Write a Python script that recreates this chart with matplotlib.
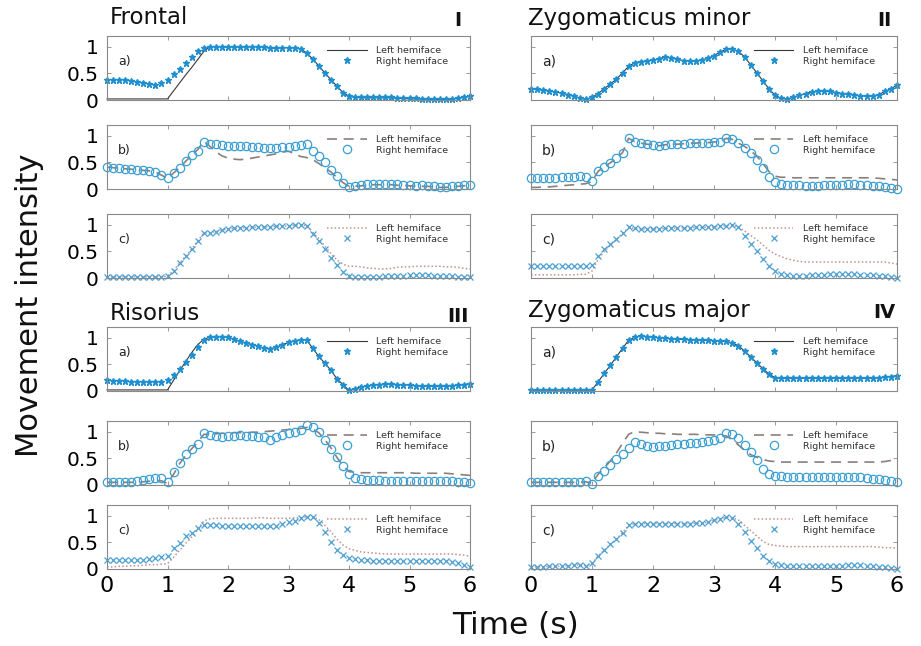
import numpy as np
import matplotlib
matplotlib.use("Agg")
import matplotlib.pyplot as plt

# ---------------- data ----------------
t = np.round(np.arange(61) * 0.1, 1)  # time samples (s)

# Panel I - Frontal
IA_R = [0.38,0.38,0.38,0.37,0.36,0.34,0.32,0.30,0.29,0.32, 0.38,0.48,0.59,0.69,0.80,0.91,0.98,1.00,1.00,1.00,
        0.99,1.00,0.99,1.00,1.00,1.00,0.99,0.97,0.97,0.98, 0.98,0.98,0.96,0.88,0.77,0.64,0.51,0.38,0.26,0.14,
        0.08,0.06,0.05,0.05,0.05,0.05,0.05,0.05,0.04,0.03, 0.03,0.03,0.02,0.02,0.01,0.01,0.01,0.02,0.04,0.06, 0.08]
IA_L = [0.02,0.02,0.02,0.02,0.02,0.02,0.02,0.02,0.02,0.02, 0.02,0.17,0.32,0.47,0.61,0.76,0.91,1.00,1.00,1.00,
        0.99,1.00,0.99,1.00,1.00,1.00,0.99,0.97,0.97,0.98, 0.98,0.98,0.96,0.88,0.77,0.64,0.51,0.38,0.26,0.14,
        0.07,0.05,0.04,0.04,0.04,0.04,0.04,0.04,0.03,0.03, 0.02,0.02,0.02,0.02,0.01,0.01,0.01,0.02,0.03,0.05, 0.07]
IB_R = [0.41,0.40,0.39,0.38,0.37,0.36,0.35,0.34,0.32,0.26, 0.20,0.30,0.40,0.52,0.63,0.72,0.88,0.85,0.84,0.82,
        0.81,0.81,0.81,0.80,0.79,0.78,0.77,0.76,0.76,0.78, 0.79,0.81,0.83,0.85,0.72,0.62,0.50,0.36,0.24,0.12,
        0.04,0.06,0.08,0.09,0.10,0.10,0.09,0.10,0.09,0.08, 0.07,0.06,0.07,0.06,0.05,0.04,0.03,0.05,0.06,0.07, 0.08]
IB_L = [0.41,0.40,0.39,0.38,0.37,0.36,0.35,0.34,0.32,0.26, 0.20,0.30,0.40,0.52,0.63,0.74,0.90,0.80,0.70,0.62,
        0.58,0.56,0.55,0.56,0.58,0.60,0.62,0.64,0.66,0.69, 0.71,0.66,0.61,0.59,0.55,0.48,0.40,0.32,0.22,0.12,
        0.05,0.05,0.06,0.07,0.08,0.08,0.08,0.08,0.07,0.07, 0.06,0.05,0.05,0.05,0.04,0.03,0.03,0.04,0.05,0.06, 0.07]
IC_R = [0.02,0.02,0.02,0.02,0.02,0.02,0.02,0.02,0.02,0.02, 0.03,0.14,0.28,0.41,0.54,0.70,0.84,0.85,0.87,0.90,
        0.92,0.93,0.94,0.94,0.95,0.95,0.96,0.96,0.97,0.97, 0.98,0.99,1.00,0.98,0.82,0.70,0.54,0.38,0.25,0.11,
        0.03,0.02,0.02,0.02,0.02,0.02,0.03,0.03,0.04,0.04, 0.05,0.05,0.05,0.05,0.04,0.04,0.03,0.03,0.02,0.02, 0.02]
IC_L = [0.02,0.02,0.02,0.02,0.02,0.02,0.02,0.02,0.02,0.02, 0.03,0.14,0.28,0.41,0.54,0.70,0.84,0.85,0.87,0.90,
        0.92,0.93,0.94,0.94,0.95,0.95,0.96,0.96,0.97,0.97, 0.98,0.99,1.00,0.98,0.86,0.74,0.60,0.46,0.34,0.26,
        0.22,0.22,0.21,0.19,0.18,0.17,0.17,0.18,0.20,0.21, 0.21,0.22,0.22,0.22,0.22,0.22,0.21,0.21,0.20,0.18, 0.17]

# Panel II - Zygomaticus minor
IIA_R = [0.21,0.20,0.18,0.17,0.15,0.13,0.10,0.07,0.04,0.01, 0.05,0.12,0.21,0.30,0.39,0.51,0.63,0.70,0.72,0.73,
         0.75,0.77,0.81,0.79,0.76,0.74,0.73,0.73,0.75,0.78, 0.83,0.90,0.95,0.96,0.91,0.81,0.66,0.51,0.36,0.21,
         0.09,0.03,0.02,0.05,0.09,0.12,0.15,0.16,0.17,0.16, 0.14,0.12,0.11,0.09,0.08,0.07,0.07,0.10,0.16,0.21, 0.28]
IIA_L = [0.21,0.20,0.18,0.17,0.15,0.13,0.10,0.07,0.04,0.01, 0.05,0.12,0.21,0.30,0.39,0.51,0.63,0.70,0.72,0.73,
         0.75,0.77,0.81,0.79,0.76,0.74,0.73,0.73,0.75,0.78, 0.83,0.90,0.95,0.96,0.91,0.81,0.66,0.51,0.36,0.21,
         0.09,0.03,0.02,0.05,0.09,0.12,0.15,0.16,0.17,0.16, 0.14,0.12,0.11,0.09,0.08,0.07,0.07,0.10,0.16,0.21, 0.28]
IIB_R = [0.20,0.20,0.20,0.21,0.21,0.22,0.23,0.23,0.24,0.23, 0.15,0.33,0.42,0.49,0.58,0.68,0.95,0.89,0.86,0.84,
         0.83,0.81,0.83,0.84,0.84,0.85,0.86,0.86,0.87,0.87, 0.88,0.89,0.95,0.93,0.86,0.76,0.67,0.54,0.39,0.23,
         0.14,0.09,0.08,0.07,0.07,0.06,0.06,0.06,0.07,0.07, 0.08,0.08,0.09,0.09,0.08,0.07,0.06,0.05,0.03,0.02, 0.00]
IIB_L = [0.03,0.03,0.04,0.04,0.05,0.06,0.07,0.08,0.09,0.10, 0.14,0.33,0.42,0.49,0.58,0.68,0.95,0.89,0.86,0.84,
         0.83,0.81,0.83,0.84,0.84,0.85,0.86,0.86,0.87,0.87, 0.88,0.89,0.95,0.93,0.86,0.80,0.72,0.62,0.48,0.33,
         0.24,0.22,0.22,0.21,0.21,0.21,0.21,0.21,0.21,0.21, 0.21,0.21,0.21,0.21,0.21,0.21,0.21,0.20,0.19,0.18, 0.17]
IIC_R = [0.23,0.23,0.23,0.23,0.23,0.23,0.23,0.23,0.23,0.23, 0.24,0.41,0.54,0.63,0.74,0.85,0.95,0.93,0.92,0.92,
         0.92,0.92,0.93,0.93,0.94,0.94,0.94,0.95,0.95,0.95, 0.96,0.97,0.98,0.99,0.96,0.79,0.63,0.51,0.35,0.22,
         0.13,0.08,0.05,0.04,0.04,0.04,0.05,0.05,0.06,0.07, 0.08,0.08,0.08,0.07,0.06,0.06,0.05,0.04,0.03,0.02, 0.00]
IIC_L = [0.06,0.06,0.06,0.06,0.06,0.06,0.06,0.06,0.07,0.07, 0.13,0.35,0.50,0.61,0.72,0.84,0.94,0.93,0.92,0.92,
         0.92,0.92,0.93,0.93,0.94,0.94,0.94,0.95,0.95,0.95, 0.96,0.97,0.98,0.99,0.96,0.88,0.80,0.72,0.62,0.52,
         0.45,0.40,0.36,0.33,0.31,0.30,0.30,0.30,0.30,0.30, 0.30,0.30,0.30,0.30,0.30,0.30,0.30,0.30,0.30,0.28, 0.26]

# Panel III - Risorius
IIIA_R = [0.20,0.19,0.19,0.18,0.17,0.16,0.16,0.16,0.16,0.17, 0.20,0.30,0.42,0.55,0.68,0.83,0.96,1.01,1.02,1.02,
          1.01,0.97,0.93,0.90,0.87,0.84,0.80,0.79,0.82,0.87, 0.91,0.94,0.96,0.96,0.80,0.65,0.52,0.39,0.23,0.12,
          0.01,0.04,0.08,0.09,0.11,0.12,0.13,0.13,0.12,0.12, 0.11,0.10,0.09,0.09,0.09,0.09,0.09,0.10,0.11,0.12, 0.14]
IIIA_L = [0.02,0.02,0.02,0.02,0.02,0.02,0.02,0.02,0.02,0.02, 0.02,0.20,0.38,0.55,0.72,0.87,0.97,1.01,1.02,1.02,
          1.01,0.97,0.93,0.90,0.87,0.84,0.80,0.79,0.82,0.87, 0.91,0.94,0.96,0.96,0.80,0.65,0.52,0.39,0.23,0.12,
          0.01,0.04,0.08,0.09,0.11,0.12,0.13,0.13,0.12,0.12, 0.11,0.10,0.09,0.09,0.09,0.09,0.09,0.10,0.11,0.12, 0.14]
IIIB_R = [0.06,0.06,0.06,0.06,0.06,0.07,0.09,0.11,0.13,0.14, 0.06,0.25,0.42,0.58,0.68,0.76,0.98,0.93,0.91,0.90,
          0.91,0.92,0.93,0.92,0.91,0.90,0.90,0.84,0.90,0.93, 0.97,1.00,1.03,1.12,1.09,1.00,0.84,0.68,0.52,0.36,
          0.20,0.14,0.11,0.10,0.09,0.09,0.08,0.08,0.08,0.08, 0.08,0.08,0.08,0.08,0.08,0.08,0.08,0.07,0.06,0.05, 0.03]
IIIB_L = [0.05,0.05,0.05,0.05,0.05,0.05,0.06,0.07,0.08,0.08, 0.03,0.20,0.40,0.55,0.68,0.80,0.95,0.95,0.96,0.97,
          0.97,0.98,0.98,0.98,0.99,0.99,1.00,1.01,1.02,1.03, 1.04,1.05,1.06,1.08,1.05,0.98,0.85,0.70,0.52,0.36,
          0.25,0.24,0.23,0.23,0.23,0.23,0.23,0.23,0.23,0.23, 0.23,0.22,0.22,0.22,0.22,0.22,0.22,0.21,0.20,0.19, 0.18]
IIIC_R = [0.16,0.16,0.16,0.16,0.16,0.16,0.16,0.18,0.21,0.23, 0.25,0.39,0.48,0.61,0.67,0.76,0.83,0.83,0.82,0.81,
          0.81,0.81,0.81,0.81,0.81,0.81,0.81,0.81,0.81,0.84, 0.88,0.90,0.95,0.98,0.98,0.86,0.70,0.51,0.36,0.26,
          0.21,0.18,0.17,0.16,0.15,0.15,0.15,0.15,0.15,0.15, 0.15,0.15,0.15,0.15,0.15,0.15,0.15,0.14,0.11,0.08, 0.04]
IIIC_L = [0.04,0.04,0.05,0.05,0.06,0.06,0.07,0.08,0.08,0.09, 0.10,0.22,0.35,0.48,0.60,0.74,0.90,0.94,0.95,0.95,
          0.95,0.95,0.95,0.95,0.95,0.96,0.96,0.95,0.95,0.95, 0.95,0.96,0.96,0.98,0.98,0.93,0.82,0.70,0.56,0.45,
          0.38,0.35,0.32,0.31,0.30,0.29,0.28,0.28,0.28,0.28, 0.28,0.28,0.28,0.28,0.28,0.28,0.28,0.28,0.27,0.26, 0.24]

# Panel IV - Zygomaticus major
IVA_R = [0.02,0.02,0.02,0.02,0.02,0.02,0.02,0.02,0.02,0.02, 0.02,0.17,0.33,0.48,0.64,0.80,0.95,1.01,1.03,1.02,
         1.01,1.00,0.99,0.98,0.97,0.97,0.96,0.96,0.95,0.95, 0.94,0.94,0.93,0.90,0.85,0.75,0.64,0.53,0.42,0.32,
         0.25,0.24,0.24,0.24,0.24,0.24,0.24,0.24,0.24,0.24, 0.24,0.24,0.24,0.24,0.24,0.24,0.24,0.25,0.26,0.27, 0.29]
IVA_L = [0.02,0.02,0.02,0.02,0.02,0.02,0.02,0.02,0.02,0.02, 0.02,0.17,0.33,0.48,0.64,0.80,0.95,1.01,1.03,1.02,
         1.01,1.00,0.99,0.98,0.97,0.97,0.96,0.96,0.95,0.95, 0.94,0.94,0.93,0.90,0.85,0.75,0.64,0.53,0.42,0.32,
         0.25,0.24,0.24,0.24,0.24,0.24,0.24,0.24,0.24,0.24, 0.24,0.24,0.24,0.24,0.24,0.24,0.24,0.25,0.26,0.27, 0.29]
IVB_R = [0.06,0.06,0.06,0.06,0.06,0.06,0.06,0.06,0.06,0.08, 0.01,0.17,0.27,0.37,0.48,0.59,0.69,0.81,0.76,0.74,
         0.72,0.73,0.74,0.75,0.76,0.77,0.78,0.79,0.81,0.83, 0.85,0.88,0.97,0.95,0.88,0.75,0.62,0.46,0.30,0.21,
         0.17,0.16,0.15,0.15,0.15,0.15,0.15,0.15,0.15,0.15, 0.15,0.15,0.15,0.15,0.15,0.14,0.12,0.11,0.10,0.08, 0.06]
IVB_L = [0.05,0.05,0.05,0.05,0.05,0.05,0.05,0.05,0.05,0.06, 0.03,0.20,0.32,0.45,0.60,0.78,0.95,1.00,0.99,0.98,
         0.97,0.97,0.96,0.96,0.95,0.95,0.95,0.95,0.94,0.94, 0.94,0.93,0.92,0.85,0.75,0.65,0.57,0.52,0.48,0.45,
         0.44,0.43,0.43,0.43,0.43,0.43,0.43,0.43,0.43,0.43, 0.43,0.43,0.43,0.43,0.43,0.43,0.43,0.43,0.44,0.46, 0.48]
IVC_R = [0.04,0.04,0.04,0.05,0.05,0.05,0.06,0.07,0.08,0.06, 0.11,0.24,0.35,0.46,0.56,0.68,0.82,0.85,0.85,0.85,
         0.85,0.85,0.85,0.85,0.85,0.85,0.85,0.86,0.86,0.88, 0.91,0.94,0.97,0.96,0.85,0.69,0.53,0.40,0.24,0.15,
         0.10,0.07,0.05,0.05,0.05,0.05,0.05,0.05,0.05,0.05, 0.05,0.06,0.07,0.08,0.07,0.06,0.05,0.04,0.03,0.02, 0.00]
IVC_L = [0.04,0.04,0.04,0.05,0.05,0.05,0.06,0.07,0.08,0.06, 0.11,0.24,0.35,0.46,0.56,0.68,0.82,0.85,0.85,0.85,
         0.85,0.85,0.85,0.85,0.85,0.85,0.85,0.86,0.86,0.88, 0.91,0.94,0.97,0.96,0.92,0.82,0.72,0.62,0.52,0.46,
         0.44,0.43,0.42,0.42,0.42,0.42,0.42,0.42,0.42,0.42, 0.42,0.42,0.42,0.42,0.42,0.42,0.42,0.41,0.40,0.40, 0.39]

panel_titles = ["Frontal", "Zygomaticus minor", "Risorius", "Zygomaticus major"]
panel_numerals = ["I", "II", "III", "IV"]
sub_labels = ["a)", "b)", "c)"]
legend_labels = ["Left hemiface", "Right hemiface"]
ytick_vals = [0, 0.5, 1]
ytick_text = ["0", "0.5", "1"]
xtick_vals = [0, 1, 2, 3, 4, 5, 6]

panels = [
    [(IA_L, IA_R), (IB_L, IB_R), (IC_L, IC_R)],
    [(IIA_L, IIA_R), (IIB_L, IIB_R), (IIC_L, IIC_R)],
    [(IIIA_L, IIIA_R), (IIIB_L, IIIB_R), (IIIC_L, IIIC_R)],
    [(IVA_L, IVA_R), (IVB_L, IVB_R), (IVC_L, IVC_R)],
]

# ---------------- styles ----------------
left_styles = [
    dict(color="#3c3636", lw=0.8, ls="-"),
    dict(color="#8c7f7a", lw=1.2, ls=(0, (6, 4))),
    dict(color="#c49191", lw=1.1, ls=(0, (1, 1.5))),
]
right_styles = [
    dict(marker="*", ms=5, color="#1e8fcf", mec="#1e8fcf", ls="none"),
    dict(marker="o", ms=6, mfc="none", mec="#3b9fd3", mew=0.9, ls="none"),
    dict(marker="x", ms=4, mew=0.9, color="#4aa0d2", ls="none"),
]

W, H = 921, 646
fig = plt.figure(figsize=(W / 100, H / 100), dpi=100)

col_geom = [(107, 363), (531, 366)]
row_tops = [[36, 125, 214], [327, 421, 505]]
box_h = 64

def add_ax(x0, top, w, h):
    return fig.add_axes([x0 / W, 1 - (top + h) / H, w / W, h / H])

for p in range(4):
    col = p % 2
    blk = p // 2
    x0, w = col_geom[col]
    for r in range(3):
        ax = add_ax(x0, row_tops[blk][r], w, box_h)
        L, R = panels[p][r]
        ax.plot(t, L, label=legend_labels[0], clip_on=False, **left_styles[r])
        ax.plot(t, R, label=legend_labels[1], clip_on=False, **right_styles[r])
        ax.set_xlim(0, 6)
        ax.set_ylim(0, 1.2)
        ax.set_xticks(xtick_vals)
        ax.set_yticks(ytick_vals)
        for sp in ax.spines.values():
            sp.set_color("#8a8a8a")
            sp.set_linewidth(0.8)
        ax.tick_params(direction="in", length=3, width=0.6, color="#8a8a8a",
                       top=True, right=True)
        if col == 0:
            ax.set_yticklabels(ytick_text, fontsize=14.5)
            ax.tick_params(axis="y", pad=6)
        else:
            ax.tick_params(axis="y", labelleft=False)
        if blk == 1 and r == 2:
            ax.set_xticklabels([str(v) for v in xtick_vals], fontsize=16)
            ax.tick_params(axis="x", pad=5)
        else:
            ax.tick_params(axis="x", labelbottom=False)
        ax.text(0.03, 0.6, sub_labels[r], transform=ax.transAxes,
                fontsize=9 if col == 0 else 10, va="center", ha="left", color="#222222")
        leg = ax.legend(loc="upper right", bbox_to_anchor=(0.95, 0.9), frameon=False,
                        fontsize=6.8, handlelength=4.2, labelspacing=0.15,
                        handletextpad=1.0, numpoints=1, borderaxespad=0)
        for txt in leg.get_texts():
            txt.set_color("#333333")

# panel titles and numerals
title_pos = [(110, 18), (528, 18), (110, 313), (528, 310)]
num_pos = [(458, 20), (884, 20), (458, 316), (884, 313)]
for p in range(4):
    fig.text(title_pos[p][0] / W, 1 - title_pos[p][1] / H, panel_titles[p],
             fontsize=16.5, ha="left", va="center", color="#111111")
    fig.text(num_pos[p][0] / W, 1 - num_pos[p][1] / H, panel_numerals[p],
             fontsize=14, fontweight="bold", ha="center", va="center", color="#111111")

fig.text(30 / W, 1 - 305 / H, "Movement intensity", rotation=90, fontsize=22,
         ha="center", va="center", color="#111111")
fig.text(515 / W, 1 - 625 / H, "Time (s)", fontsize=22.5, ha="center", va="center",
         color="#111111")

fig.savefig("out.png", dpi=100)
